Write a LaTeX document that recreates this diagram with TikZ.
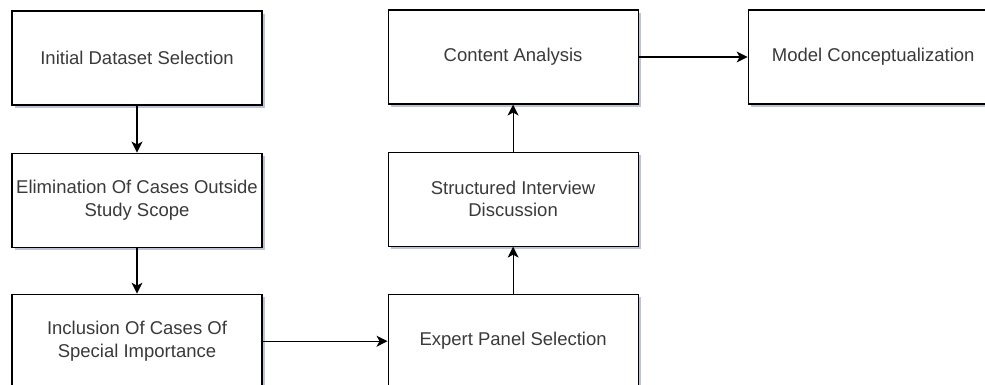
\documentclass[tikz,border=0pt]{standalone}
\usepackage{fontspec}
\setmainfont{Liberation Sans}
\usepackage{tikz}
\usetikzlibrary{positioning,arrows.meta,shadows}

\definecolor{boxtext}{RGB}{58,58,58}
\definecolor{boxshade}{RGB}{140,145,180}

\begin{document}
\begin{tikzpicture}[
            node distance=47pt and 125pt,
            box/.style={
                draw=black, line width=1.1pt, fill=white, minimum width=250pt, minimum height=94pt, text=boxtext, align=center,
                font=\fontsize{18.5}{22.5}\selectfont,
                drop shadow={shadow xshift=3pt, shadow yshift=-3pt, fill=boxshade, opacity=0.55}
            },
            arr/.style={
                -{Stealth[length=11pt, width=11pt, inset=3pt]}, line width=1.1pt, draw=black
            }
        ]
            \clip (0pt,0pt) rectangle (985pt,-385pt);

            % LEFT COLUMN, TOP TO BOTTOM
            \node[box] (sel) at (137pt,-58pt) {Initial Dataset Selection};
            \node[box, below=of sel] (elim) {Elimination Of Cases Outside\\Study Scope};
            \node[box, below=46pt of elim] (incl) {Inclusion Of Cases Of\\Special Importance};

            % --- MIDDLE COLUMN, BOTTOM TO TOP ---
            \node[box, right=of incl] (panel) {Expert Panel Selection};
            \node[box, above=of panel] (intv) {Structured Interview\\Discussion};
            \node[box, above=of intv] (cont) {Content Analysis};

            % --- LAST STEP ---
            \node[box, right=109pt of cont] (model) {Model Conceptualization};

            % ARROWS BETWEEN THE STEPS
            \draw[arr] (sel) -- (elim);
            \draw[arr] (elim) -- (incl);
            \draw[arr] (incl) -- (panel);
            \draw[arr] (panel) -- (intv);
            \draw[arr] (intv) -- (cont);
            \draw[arr] (cont) -- (model);

        \end{tikzpicture}
\end{document}
